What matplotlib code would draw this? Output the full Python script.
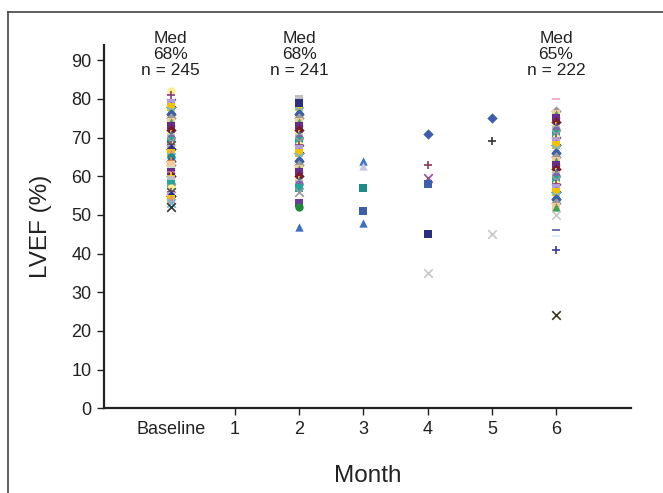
import matplotlib
matplotlib.use("Agg")
import matplotlib.pyplot as plt
from matplotlib.lines import Line2D

plt.rcParams['font.family'] = ['Liberation Sans', 'DejaVu Sans']

# ---------------- data ----------------
tick_pos = [0, 1, 2, 3, 4, 5, 6]
tick_labels = ['Baseline', '1', '2', '3', '4', '5', '6']
y_ticks = [0, 10, 20, 30, 40, 50, 60, 70, 80, 90]

annot_x = [0, 2, 6]
annot_text = ['Med\n68%\nn = 245', 'Med\n68%\nn = 241', 'Med\n65%\nn = 222']

baseline_vals = [82, 81, 79, 79, 78, 78, 77, 77, 76, 76, 75, 75, 74, 74, 73, 73,
                 72, 72, 71, 71, 70, 70, 69, 69, 68, 68, 68, 67, 67, 66, 66, 65,
                 65, 64, 64, 63, 63, 62, 62, 61, 61, 60, 60, 59, 59, 58, 58, 57,
                 57, 56, 56, 55, 55, 54, 54, 53, 52]
month2_vals = [80, 79, 78, 77, 77, 76, 76, 75, 75, 74, 74, 73, 73, 72, 72, 71,
               71, 70, 70, 69, 69, 68, 68, 67, 67, 66, 66, 65, 65, 64, 64, 63,
               63, 62, 62, 61, 61, 60, 60, 59, 59, 58, 58, 57, 56, 53, 52, 47]
month6_vals = [80, 77, 76, 76, 75, 75, 74, 74, 73, 73, 72, 72, 71, 71, 70, 70,
               69, 69, 68, 68, 67, 67, 66, 66, 65, 65, 64, 64, 63, 63, 62, 62,
               61, 61, 60, 60, 59, 59, 58, 58, 57, 57, 56, 56, 55, 55, 54, 54,
               53, 53, 52, 52, 51, 50, 46, 44.5, 41, 24]

month3_vals = [64, 62.6, 57, 51, 48]
month4_vals = [71, 63, 59.5, 58, 45, 35]
month5_vals = [75, 69, 45]

# ---------------- styles ----------------
palette = [
    ('o', '#f5ef90'), ('+', '#8b3a7a'), ('x', '#4a4a4a'), ('s', '#b39ddb'),
    ('D', '#2b2f7e'), ('s', '#f2c200'), ('^', '#e88d9a'), ('x', '#5bc0de'),
    ('o', '#1e8a8a'), ('D', '#3d5eab'), ('+', '#f28c28'), ('D', '#999999'),
    ('s', '#f9c89b'), ('^', '#3aa655'), ('o', '#c9e4c5'), ('s', '#6a2c8a'),
    ('_', '#e06f9b'), ('D', '#7a1c2c'), ('+', '#e8e03a'), ('^', '#4a6fc0'),
    ('s', '#c0c0c0'), ('o', '#7b68a8'), ('s', '#26a69a'), ('x', '#9a9a9a'),
]

fig = plt.figure(figsize=(6.63, 4.93), dpi=100)
ax = fig.add_axes([0.157, 0.172, 0.795, 0.737])


def draw(x, m, c, y):
    if m in ('x', '+', '_'):
        ax.scatter([x], [y], marker=m, color=c, s=38, linewidths=1.2,
                   zorder=3, clip_on=False)
    else:
        sz = 28 if m == 'D' else 36
        ax.scatter([x], [y], marker=m, color=c, s=sz, linewidths=0,
                   zorder=3, clip_on=False)


def dense(x, vals, offset):
    n = len(palette)
    for i, v in enumerate(vals):
        m, c = palette[(i + offset) % n]
        draw(x, m, c, v)

dense(0, baseline_vals[:-1], 0)
draw(0, 'x', '#333333', baseline_vals[-1])

dense(2, month2_vals[2:-3], 5)
draw(2, 's', '#c0c0c0', month2_vals[0])
draw(2, 's', '#2b2f7e', month2_vals[1])
draw(2, 's', '#6a3d9a', month2_vals[-3])
draw(2, 'o', '#1f8a3a', month2_vals[-2])
draw(2, '^', '#3d6ec0', month2_vals[-1])

dense(6, month6_vals[1:-6], 11)
draw(6, '_', '#f2a0c0', month6_vals[0])
draw(6, 'x', '#c8c8c8', month6_vals[-5])
draw(6, '_', '#5a5aa0', month6_vals[-4])
draw(6, '_', '#d4f0f4', month6_vals[-3])
draw(6, '+', '#3a3a9a', month6_vals[-2])
draw(6, 'x', '#3a3a1a', month6_vals[-1])

m3_styles = [('^', '#3d6ec0'), ('^', '#c8c8e8'), ('s', '#1e8a8a'),
             ('s', '#3d5eab'), ('^', '#3d6ec0')]
for v, (m, c) in zip(month3_vals, m3_styles):
    draw(3, m, c, v)

m4_styles = [('D', '#3d5eab'), ('+', '#8b3a5a'), ('x', '#a04a9a'),
             ('s', '#3d5eab'), ('s', '#2b2f7e'), ('x', '#c8c8c8')]
for v, (m, c) in zip(month4_vals, m4_styles):
    draw(4, m, c, v)

m5_styles = [('D', '#3d5eab'), ('+', '#333333'), ('x', '#c8c8c8')]
for v, (m, c) in zip(month5_vals, m5_styles):
    draw(5, m, c, v)

# annotations
for x, t in zip(annot_x, annot_text):
    ax.text(x, 85.3, t, ha='center', va='bottom', fontsize=12.5,
            linespacing=1.1, color='#222222')

# axes styling
ax.set_xlim(-1.04, 7.17)
ax.set_ylim(0, 94)
ax.set_xticks(tick_pos)
ax.set_xticklabels(tick_labels, fontsize=13)
ax.set_yticks(y_ticks)
ax.set_yticklabels([str(v) for v in y_ticks], fontsize=13)
ax.xaxis.get_major_ticks()[0].tick1line.set_visible(False)
for s in ('top', 'right'):
    ax.spines[s].set_visible(False)
for s in ('left', 'bottom'):
    ax.spines[s].set_linewidth(1.6)
    ax.spines[s].set_color('#222222')
ax.tick_params(axis='both', direction='out', length=5, width=1.0,
               colors='#222222', pad=4)
ax.set_ylabel('LVEF (%)', fontsize=17.5, labelpad=14, color='#222222')
ax.set_xlabel('Month', fontsize=17.5, labelpad=20, color='#222222')

# figure border (left and top visible)
fig.add_artist(Line2D([8 / 663, 8 / 663], [0, 1 - 12 / 493], color='#444444',
                      linewidth=1.2, transform=fig.transFigure))
fig.add_artist(Line2D([8 / 663, 1], [1 - 12 / 493, 1 - 12 / 493], color='#444444',
                      linewidth=1.2, transform=fig.transFigure))

fig.savefig('out.png', dpi=100)
